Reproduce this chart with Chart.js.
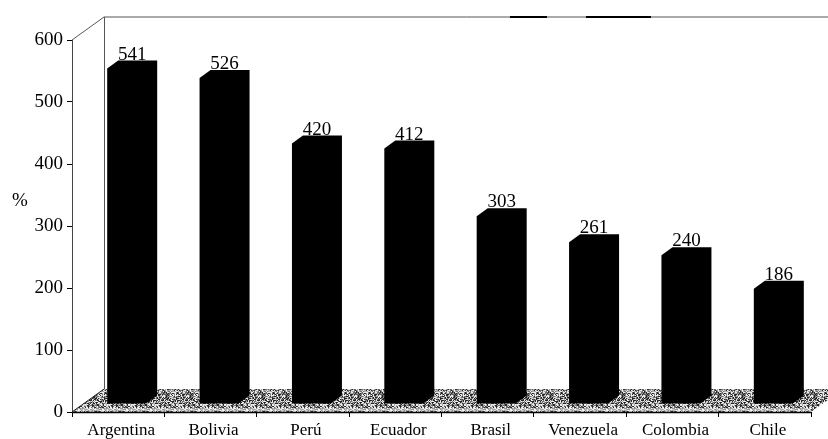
<!DOCTYPE html>
<html>
<head>
<meta charset="utf-8">
<script src="https://cdn.jsdelivr.net/npm/chart.js@4/dist/chart.umd.min.js"></script>
<style>
  html, body { margin: 0; padding: 0; background: #fff; }
  canvas { display: block; }
</style>
</head>
<body>
<canvas id="c" width="828" height="439"></canvas>
<script>
const countries = ['Argentina', 'Bolivia', 'Perú', 'Ecuador', 'Brasil', 'Venezuela', 'Colombia', 'Chile'];
const percentValues = [541, 526, 420, 412, 303, 261, 240, 186];
const yTicks = [0, 100, 200, 300, 400, 500, 600];
const axisUnit = '%';

const SERIF = '"Liberation Serif", "Times New Roman", serif';

// Oblique projection used for the box (walls/floor) and for the bar prisms
const WALL_DX = 32, WALL_DY = 23;   // depth of the whole box
const BAR_SHIFT_X = 8.5, BAR_SHIFT_Y = 8; // bars sit a little behind the front edge
const BAR_DX = 11, BAR_DY = 8;      // depth of each bar

// Stippled tile for the floor (coarse grain, mid grey on average)
function makeStipple() {
  const N = 24;
  const t = document.createElement('canvas');
  t.width = N; t.height = N;
  const g = t.getContext('2d');
  const img = g.createImageData(N, N);
  for (let y = 0; y < N; y++) {
    for (let x = 0; x < N; x++) {
      let h = (x * 73856093) ^ (y * 19349663) ^ ((x * 7 + y * 13) * 83492791);
      h = (h >>> 0) % 101;
      const v = h < 28 ? 40 : h < 50 ? 110 : h < 72 ? 170 : 235;
      const i = (y * N + x) * 4;
      img.data[i] = img.data[i + 1] = img.data[i + 2] = v;
      img.data[i + 3] = 255;
    }
  }
  g.putImageData(img, 0, 0);
  return t;
}
const stippleTile = makeStipple();

const boxPlugin = {
  id: 'box3d',
  beforeDatasetsDraw(chart) {
    const { ctx, chartArea: a } = chart;
    ctx.save();
    // floor
    ctx.fillStyle = ctx.createPattern(stippleTile, 'repeat');
    ctx.beginPath();
    ctx.moveTo(a.left, a.bottom);
    ctx.lineTo(a.right, a.bottom);
    ctx.lineTo(a.right + WALL_DX, a.bottom - WALL_DY);
    ctx.lineTo(a.left + WALL_DX, a.bottom - WALL_DY);
    ctx.closePath();
    ctx.fill();
    // light front lip of the floor
    ctx.fillStyle = 'rgba(255,255,255,0.5)';
    ctx.fillRect(a.left + 4, a.bottom - 4, a.right - a.left - 4, 3);

    // back wall edges
    ctx.strokeStyle = '#555';
    ctx.lineWidth = 1;
    ctx.beginPath();
    ctx.moveTo(a.left, a.top);
    ctx.lineTo(a.left + WALL_DX, a.top - WALL_DY);
    ctx.lineTo(chart.width + 2, a.top - WALL_DY);
    ctx.moveTo(a.left + WALL_DX + 0.5, a.top - WALL_DY);
    ctx.lineTo(a.left + WALL_DX + 0.5, a.bottom - WALL_DY);
    ctx.stroke();
    ctx.strokeStyle = '#000';
    ctx.lineWidth = 2;
    ctx.beginPath();
    ctx.moveTo(510, a.top - WALL_DY);
    ctx.lineTo(547, a.top - WALL_DY);
    ctx.moveTo(586, a.top - WALL_DY);
    ctx.lineTo(651, a.top - WALL_DY);
    ctx.stroke();
    ctx.restore();
  },
  afterDatasetsDraw(chart) {
    const { ctx, chartArea: a } = chart;
    const meta = chart.getDatasetMeta(0);
    ctx.save();
    meta.data.forEach((el, i) => {
      const p = el.getProps(['x', 'y', 'base', 'width'], true);
      const L = p.x - p.width / 2 + BAR_SHIFT_X;
      const R = L + p.width;
      const T = p.y - BAR_SHIFT_Y;
      const B = p.base - BAR_SHIFT_Y;
      ctx.fillStyle = '#000';
      ctx.beginPath();
      ctx.moveTo(L, B);
      ctx.lineTo(L, T);
      ctx.lineTo(L + BAR_DX, T - BAR_DY);
      ctx.lineTo(R + BAR_DX, T - BAR_DY);
      ctx.lineTo(R + BAR_DX, B - BAR_DY);
      ctx.lineTo(R, B);
      ctx.closePath();
      ctx.fill();

      // value label over the top face
      ctx.font = '19px ' + SERIF;
      ctx.textAlign = 'center';
      ctx.textBaseline = 'alphabetic';
      ctx.fillText(String(percentValues[i]), (L + R + BAR_DX) / 2, T - BAR_DY - 1);
    });

    // front edge of the floor
    ctx.strokeStyle = '#000';
    ctx.lineWidth = 1.5;
    ctx.beginPath();
    ctx.moveTo(a.left, a.bottom + 0.5);
    ctx.lineTo(a.right, a.bottom + 0.5);
    ctx.stroke();
    ctx.strokeStyle = '#222';
    ctx.lineWidth = 1;
    ctx.beginPath();
    ctx.moveTo(a.left, a.bottom);
    ctx.lineTo(a.left + WALL_DX, a.bottom - WALL_DY);
    ctx.stroke();

    // unit label
    ctx.fillStyle = '#000';
    ctx.font = '19px ' + SERIF;
    ctx.textAlign = 'center';
    ctx.textBaseline = 'middle';
    ctx.fillText(axisUnit, 20, 201);
    ctx.restore();
  }
};

new Chart(document.getElementById('c'), {
  type: 'bar',
  data: {
    labels: countries,
    datasets: [{
      data: percentValues,
      backgroundColor: 'rgba(0,0,0,0)',
      borderWidth: 0,
      barThickness: 39
    }]
  },
  options: {
    responsive: false,
    animation: false,
    layout: { padding: { left: 0, right: 17, top: 40, bottom: 0 } },
    plugins: { legend: { display: false }, tooltip: { enabled: false } },
    scales: {
      x: {
        grid: { display: true, drawOnChartArea: false, tickLength: 5, color: '#000', offset: true },
        border: { display: true, color: '#000' },
        ticks: { font: { family: SERIF, size: 17 }, color: '#000', padding: 3, labelOffset: 3, maxRotation: 0, autoSkip: false },
        afterFit(s) { s.height = 27; }
      },
      y: {
        min: yTicks[0],
        max: yTicks[yTicks.length - 1],
        afterBuildTicks(s) { s.ticks = yTicks.map(v => ({ value: v })); },
        grid: { display: true, drawOnChartArea: false, tickLength: 5, color: '#000' },
        border: { display: true, color: '#444' },
        ticks: { font: { family: SERIF, size: 19 }, color: '#000', padding: 4 },
        afterFit(s) { s.width = 72; }
      }
    }
  },
  plugins: [boxPlugin]
});
</script>
</body>
</html>
